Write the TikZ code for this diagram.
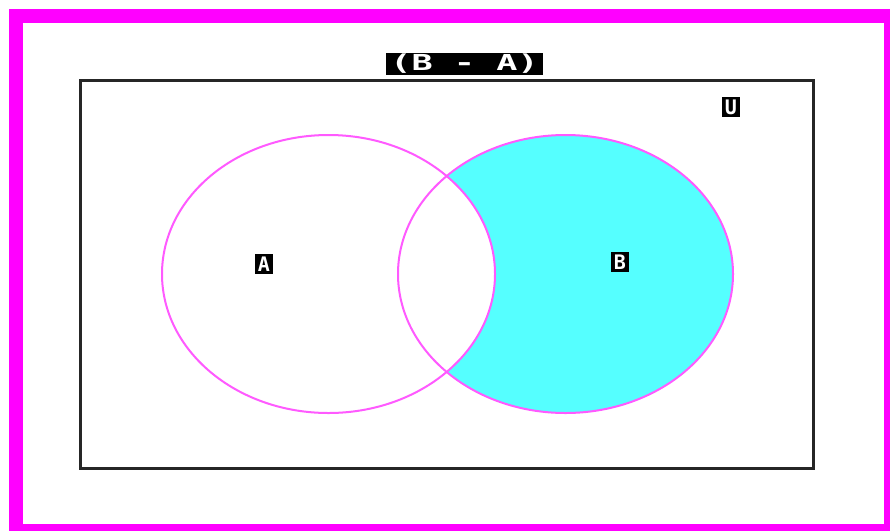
\documentclass[tikz,border=0pt]{standalone}
\usepackage{fontspec}
\setmonofont{DejaVu Sans Mono}
\definecolor{borderM}{RGB}{255,0,255}
\definecolor{ellM}{RGB}{255,90,255}
\definecolor{fillC}{RGB}{85,255,255}
\begin{document}
\begin{tikzpicture}[x=1pt,y=-1pt,
  titlebox/.style={fill=black,text=white,minimum width=157pt,minimum height=22pt,inner sep=0pt,
    font=\fontsize{22}{22}\selectfont\ttfamily\bfseries},
  lbl/.style={fill=black,text=white,inner sep=2.5pt,
    font=\fontsize{20}{20}\selectfont\ttfamily\bfseries},
  setline/.style={draw=ellM,line width=2pt}]
\useasboundingbox (0,0) rectangle (890,531);
\fill[white] (0,0) rectangle (890,531);
\fill[borderM] (9,9) rectangle (890,531);
\fill[white] (23,23) rectangle (884,524);
\begin{scope}
  \clip (565.5,274) ellipse [x radius=167.5,y radius=139];
  \fill[fillC] (565.5,274) ellipse [x radius=167.5,y radius=139];
  \fill[white] (328.5,274) ellipse [x radius=166.5,y radius=139];
\end{scope}
\draw[setline] (328.5,274) ellipse [x radius=166.5,y radius=139];
\draw[setline] (565.5,274) ellipse [x radius=167.5,y radius=139];
\draw[line width=3pt,black!85] (80.5,80.5) rectangle (813.5,468.5);
\node[titlebox] (title) at (464.5,64) {\scalebox{1.6}[1]{(B - A)}};
\node[lbl] (labA) at (264,264) {A};
\node[lbl] (labB) at (620,262) {B};
\node[lbl] (labU) at (731,107) {U};
\end{tikzpicture}
\end{document}
